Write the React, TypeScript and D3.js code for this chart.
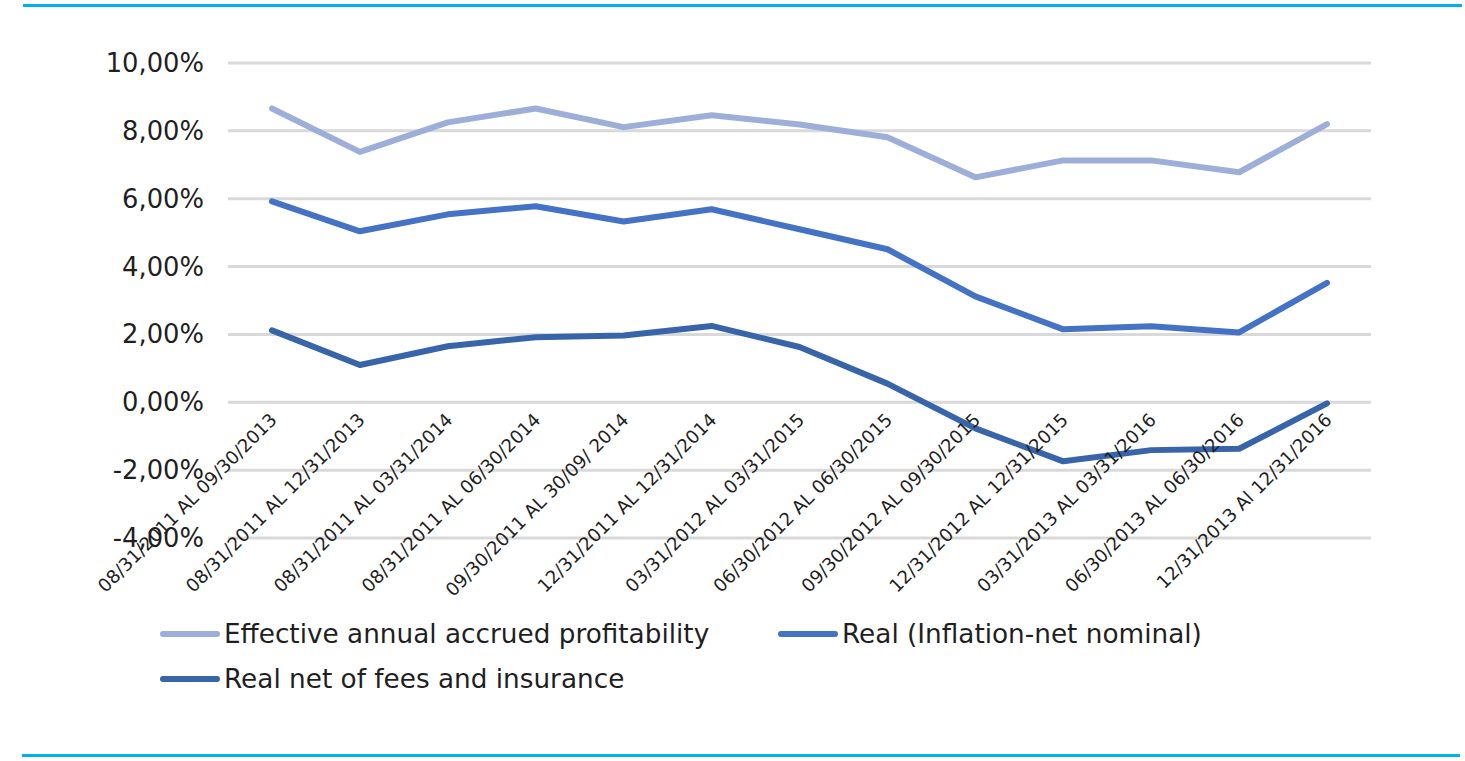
import React from 'react';
import * as d3 from 'd3';

const categories = [
  '08/31/2011 AL 09/30/2013',
  '08/31/2011 AL 12/31/2013',
  '08/31/2011 AL 03/31/2014',
  '08/31/2011 AL 06/30/2014',
  '09/30/2011 AL 30/09/ 2014',
  '12/31/2011 AL 12/31/2014',
  '03/31/2012 AL 03/31/2015',
  '06/30/2012 AL 06/30/2015',
  '09/30/2012 AL 09/30/2015',
  '12/31/2012 AL 12/31/2015',
  '03/31/2013 AL 03/31/2016',
  '06/30/2013 AL 06/30/2016',
  '12/31/2013 Al 12/31/2016',
];

const effective = [8.66, 7.38, 8.25, 8.66, 8.11, 8.46, 8.19, 7.81, 6.63, 7.13, 7.13, 6.78, 8.2];
const real = [5.92, 5.04, 5.54, 5.78, 5.33, 5.69, 5.1, 4.51, 3.12, 2.15, 2.24, 2.06, 3.52];
const realNet = [2.12, 1.1, 1.65, 1.92, 1.97, 2.25, 1.63, 0.55, -0.77, -1.74, -1.41, -1.37, -0.03];

const yTicks = [10, 8, 6, 4, 2, 0, -2, -4];

const series = [
  { name: 'Effective annual accrued profitability', values: effective, color: '#9DAFD9' },
  { name: 'Real (Inflation-net nominal)', values: real, color: '#4472C4' },
  { name: 'Real net of fees and insurance', values: realNet, color: '#3864AA' },
];

const W = 1465;
const H = 761;
const font = '"DejaVu Sans", Verdana, sans-serif';

export default function App() {
  const x = d3.scaleBand<number>().domain(d3.range(categories.length)).range([228, 1371]);
  const y = d3.scaleLinear().domain([-4, 10]).range([538, 63]);
  const cx = (i: number) => (x(i) as number) + x.bandwidth() / 2;

  const line = d3
    .line<number>()
    .x((_, i) => cx(i))
    .y((d) => y(d));

  const fmt = (v: number) => v.toFixed(2).replace('.', ',') + '%';

  const legend = [
    { s: series[0], lx: 160, ly: 634 },
    { s: series[1], lx: 778, ly: 634 },
    { s: series[2], lx: 160, ly: 679 },
  ];

  return (
    <svg
      width={W}
      height={H}
      style={{ position: 'absolute', left: 0, top: 0, background: '#fff' }}
      fontFamily={font}
    >
      <rect x={23} y={4} width={1439} height={3} fill="#00B0F0" />
      <rect x={22} y={754} width={1438} height={3} fill="#00B0F0" />

      {yTicks.map((t) => (
        <g key={t}>
          <line x1={228} x2={1371} y1={y(t)} y2={y(t)} stroke="#D9D9D9" strokeWidth={3} />
          <text x={204} y={y(t)} dy="0.35em" textAnchor="end" fontSize={25.8} fill="#1F1F1F">
            {fmt(t)}
          </text>
        </g>
      ))}

      {series.map((s) => (
        <path
          key={s.name}
          d={line(s.values) as string}
          fill="none"
          stroke={s.color}
          strokeWidth={6}
          strokeLinejoin="round"
          strokeLinecap="round"
        />
      ))}

      {categories.map((c, i) => (
        <text
          key={c}
          transform={`translate(${cx(i) + 6},${421}) rotate(-45)`}
          textAnchor="end"
          fontSize={18.2}
          fill="#1F1F1F"
        >
          {c}
        </text>
      ))}

      {legend.map(({ s, lx, ly }) => (
        <g key={s.name}>
          <line x1={lx + 3} x2={lx + 57} y1={ly} y2={ly} stroke={s.color} strokeWidth={6} strokeLinecap="round" />
          <text x={lx + 64} y={ly} dy="0.35em" fontSize={26.3} fill="#1F1F1F">
            {s.name}
          </text>
        </g>
      ))}
    </svg>
  );
}
